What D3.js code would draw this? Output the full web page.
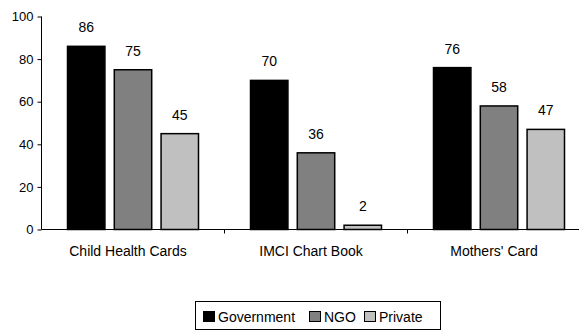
<!DOCTYPE html>
<html>
<head>
<meta charset="utf-8">
<script src="https://cdn.jsdelivr.net/npm/d3@7"></script>
<style>
  html, body { margin: 0; padding: 0; background: #fff; }
  svg { display: block; font-family: "Liberation Sans", Arial, sans-serif; }
</style>
</head>
<body>
<svg id="chart" width="579" height="330"></svg>
<script>
// Share of facilities using each tool, by provider type (%)
const categories = ["Child Health Cards", "IMCI Chart Book", "Mothers' Card"];
const seriesNames = ["Government", "NGO", "Private"];
const government = [86, 70, 76];
const ngo = [75, 36, 58];
const privateSector = [45, 2, 47];
const yTicks = [0, 20, 40, 60, 80, 100];

const seriesValues = [government, ngo, privateSector];
const colors = ["#000000", "#808080", "#c0c0c0"];

const svg = d3.select("#chart");
const plotLeft = 41.5, plotTop = 16.5, plotBottom = 229.5;

const y = d3.scaleLinear().domain([0, 100]).range([plotBottom, plotTop]);
const x0 = d3.scaleBand().domain(categories).range([plotLeft, plotLeft + 549]);
const x1 = d3.scaleBand().domain(seriesNames).range([0, 131]).paddingInner(0.2);
const groupOffset = (x0.bandwidth() - 131) / 2;

// Y axis
const yAxis = d3.axisLeft(y).tickValues(yTicks).tickSize(4).tickPadding(4);
const gy = svg.append("g").attr("transform", `translate(${plotLeft},0)`).call(yAxis);
gy.select(".domain").attr("stroke", "#000").attr("d", `M0,${plotTop}V${plotBottom}`);
gy.selectAll(".tick line").attr("stroke", "#000");
gy.selectAll(".tick text").attr("fill", "#000").style("font-size", "13px")
  .attr("font-family", "Liberation Sans, Arial, sans-serif");

// X axis
const xAxis = d3.axisBottom(x0).tickSize(0).tickFormat("");
const gx = svg.append("g").attr("transform", `translate(0,${plotBottom})`).call(xAxis);
gx.select(".domain").attr("stroke", "#000").attr("d", `M${plotLeft},0H579`);
// category separators
gx.selectAll(".sep").data(categories.slice(1)).enter().append("line")
  .attr("x1", d => x0(d)).attr("x2", d => x0(d))
  .attr("y1", 0).attr("y2", 4).attr("stroke", "#000");
// category labels
gx.selectAll(".cat").data(categories).enter().append("text")
  .attr("x", d => x0(d) + x0.bandwidth() / 2 - 5)
  .attr("y", 26)
  .attr("text-anchor", "middle")
  .style("font-size", "14px")
  .attr("fill", "#000")
  .text(d => d);

// Bars
const rows = [];
categories.forEach((c, ci) => {
  seriesNames.forEach((s, si) => {
    rows.push({ cat: c, series: s, value: seriesValues[si][ci], color: colors[si] });
  });
});

const bars = svg.append("g");
bars.selectAll("rect").data(rows).enter().append("rect")
  .attr("x", d => x0(d.cat) + groupOffset + x1(d.series))
  .attr("y", d => y(d.value))
  .attr("width", x1.bandwidth())
  .attr("height", d => y(0) - y(d.value))
  .attr("fill", d => d.color)
  .attr("stroke", "#000")
  .attr("stroke-width", 1.5);

bars.selectAll("text").data(rows).enter().append("text")
  .attr("x", d => x0(d.cat) + groupOffset + x1(d.series) + x1.bandwidth() / 2)
  .attr("y", d => y(d.value) - 14)
  .attr("text-anchor", "middle")
  .style("font-size", "14px")
  .attr("fill", "#000")
  .text(d => d.value);

// Legend
const legend = svg.append("g");
legend.append("rect")
  .attr("x", 195.5).attr("y", 301.5).attr("width", 245).attr("height", 28)
  .attr("fill", "#fff").attr("stroke", "#000").attr("stroke-width", 1);
const legendX = [203, 309, 364];
const items = legend.selectAll(".item").data(seriesNames).enter().append("g")
  .attr("transform", (d, i) => `translate(${legendX[i]},311)`);
items.append("rect")
  .attr("x", 0.5).attr("y", 0.5).attr("width", 11).attr("height", 10)
  .attr("fill", (d, i) => colors[i]).attr("stroke", "#000").attr("stroke-width", 1);
items.append("text")
  .attr("x", 15).attr("y", 10.5)
  .style("font-size", "14px")
  .attr("fill", "#000")
  .text(d => d);
</script>
</body>
</html>
